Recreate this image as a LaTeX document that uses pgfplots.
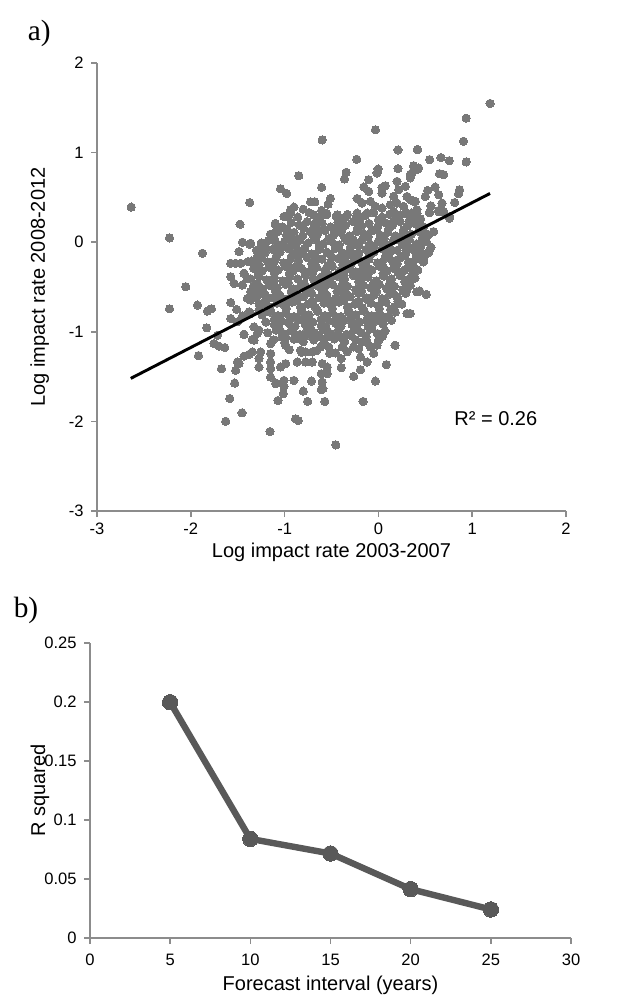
\documentclass[border=0pt]{standalone}
\usepackage{pgfplots}
\pgfplotsset{compat=1.18}
\usepackage{fontspec}
\setmainfont{Liberation Sans}
\newfontfamily\timesfont{Liberation Serif}
\definecolor{dotgray}{HTML}{787878}
\definecolor{axgray}{HTML}{8C8C8C}
\definecolor{linegray}{HTML}{595959}
\newcommand{\tl}[1]{\mbox{\fontsize{12.4}{14}\selectfont #1}}
\pgfplotsset{
  excelstyle/.style={
    scale only axis,
    axis lines*=left,
    axis line style={axgray, line width=1.5pt},
    tick style={axgray, line width=1.2pt},
    tick align=outside,
    major tick length=4.5pt,
    tick label style={font=\fontsize{12.4}{14}\selectfont, text=black},
    yticklabel style={xshift=-2pt},
    label style={font=\fontsize{15}{18}\selectfont},
    clip=false,
    clip marker paths=true,
  }
}
\begin{document}
\begin{tikzpicture}[x=1pt,y=1pt]
\path[use as bounding box] (0,0) rectangle (479.25,-752.25);
\node[font=\timesfont\fontsize{22}{26}\selectfont] at (29.5,-25) {a)};
\node[font=\timesfont\fontsize{22}{26}\selectfont] at (19.5,-457.5) {b)};
\begin{axis}[excelstyle,
  at={(72.75pt,-47.25pt)}, anchor=north west,
  width=351.75pt, height=336pt,
  xmin=-3, xmax=2, ymin=-3, ymax=2,
  xticklabel style={yshift=-1pt},
  xtick={-3,-2,-1,0,1,2}, xticklabels={\tl{-3},\tl{-2},\tl{-1},\tl{0},\tl{1},\tl{2}},
  ytick={-3,-2,-1,0,1,2}, yticklabels={\tl{-3},\tl{-2},\tl{-1},\tl{0},\tl{1},\tl{2}},
  xlabel={Log impact rate 2003-2007},
  ylabel={Log impact rate 2008-2012},
  xlabel style={at={(axis description cs:0.5,-0.092)}, anchor=center},
  ylabel style={at={(axis description cs:-0.122,0.5)}, anchor=center},
]
\addplot[only marks, color=dotgray, mark=*, mark size=3.1pt, mark options={draw=dotgray, fill=dotgray, line width=0pt}] coordinates {
(-2.635,0.392)(-1.372,0.443)(-0.599,1.142)(-0.032,1.254)(0.209,1.03)(0.415,1.034)(-0.23,0.925)(-0.848,0.742)
(-1.043,0.597)(-0.979,0.544)(-0.606,0.611)(-0.344,0.78)(-0.362,0.705)(-0.003,0.817)(-0.014,0.773)(0.209,0.821)
(-0.103,0.698)(-0.156,0.616)(-0.103,0.567)(0.074,0.63)(0.039,0.611)(0.039,0.549)(-0.511,0.488)(-0.535,0.425)
(-0.723,0.451)(-0.678,0.451)(-0.801,0.369)(-0.9,0.392)(-0.936,0.362)(-0.989,0.287)(-0.606,0.354)(-0.553,0.306)
(-0.688,0.306)(-0.439,0.306)(-0.351,0.276)(-0.227,0.488)(-0.174,0.437)(-0.085,0.455)(-0.227,0.325)(-0.12,0.325)
(-0.032,0.4)(0.039,0.381)(0.128,0.418)(0.163,0.511)(0.199,0.679)(0.216,0.586)(0.287,0.623)(0.305,0.511)
(0.34,0.754)(0.376,0.847)(0.411,0.81)(0.199,0.437)(0.27,0.4)(0.34,0.474)(0.394,0.455)(0.163,0.343)
(0.234,0.306)(0.305,0.325)(0.411,0.325)
(1.191,1.549)(0.936,1.384)(0.907,1.127)(0.936,0.896)(0.418,1.034)(0.546,0.922)(0.667,0.944)(0.755,0.91)
(0.652,0.765)(0.695,0.754)(0.376,0.854)(0.429,0.829)(0.358,0.773)(0.34,0.717)(0.865,0.586)(0.855,0.541)
(0.606,0.616)(0.525,0.578)(0.5,0.511)(0.642,0.53)(0.812,0.443)(0.678,0.437)(0.56,0.406)(0.376,0.455)
(0.543,0.331)(0.642,0.354)(0.695,0.343)(0.759,0.287)(0.411,0.362)
(-1.475,0.2)(-2.227,0.048)(-1.876,-0.123)(-1.45,0.0)(-1.372,-0.022)(-1.486,-0.105)(-1.39,-0.217)(-1.273,-0.105)
(-1.574,-0.235)(-1.521,-0.235)(-1.468,-0.235)(-1.273,-0.179)(-1.574,-0.385)(-1.539,-0.459)(-1.45,-0.478)
(-1.433,-0.347)(-1.397,-0.403)(-1.273,-0.254)(-2.053,-0.497)(-1.326,-0.564)(-1.397,-0.627)(-1.362,-0.646)
(-1.273,-0.683)(-2.227,-0.744)(-1.929,-0.702)(-1.823,-0.769)(-1.78,-0.744)(-1.574,-0.672)(-1.511,-0.75)
(-1.45,-0.825)(-1.379,-0.777)(-1.273,-0.758)(-1.574,-0.851)(-1.503,-0.889)(-1.326,-0.945)(-1.433,-1.03)
(-1.83,-0.956)(-1.273,-0.982)
(-1.918,-1.265)(-1.673,-1.411)(-1.752,-1.131)(-1.699,-1.161)(-1.638,-1.176)(-1.716,-1.038)(-1.433,-1.027)
(-1.344,-1.086)(-1.29,-1.019)(-1.503,-1.337)(-1.486,-1.355)(-1.521,-1.43)(-1.433,-1.273)(-1.379,-1.251)
(-1.344,-1.225)(-1.273,-1.299)(-1.273,-1.393)(-1.532,-1.572)(-1.585,-1.744)(-1.454,-1.904)(-1.628,-1.998)
(-0.454,-2.262)(-1.156,-2.113)(-0.883,-1.971)(-0.855,-1.99)(-1.071,-1.766)(-1.014,-1.691)(-0.755,-1.777)
(-0.571,-1.777)(-0.163,-1.777)(-0.801,-1.662)(-0.609,-1.646)(-0.592,-1.635)(-0.032,-1.55)(-0.263,-1.497)
(-0.191,-1.422)(0.085,-1.366)(0.178,-1.15)(-1.092,-1.572)(-1.007,-1.542)(-1.007,-1.609)(-0.901,-1.542)
(-0.713,-1.55)(-0.609,-1.467)(-0.599,-1.561)(-0.546,-1.467)(-0.599,-1.355)(-0.546,-1.393)(-0.397,-1.4)
(-0.397,-1.299)(-0.12,-1.337)(-0.191,-1.281)(-0.174,-1.113)(-0.014,-1.15)(0.043,-1.049)(-0.085,-1.169)
(-0.263,-1.169)(-0.386,-1.169)(-0.457,-1.236)(-1.149,-1.131)(-1.149,-1.243)(-1.273,-1.299)(-1.149,-1.411)
(-1.149,-1.505)(-1.149,-1.337)(-1.043,-1.393)(-0.989,-1.355)(-1.096,-1.579)(-0.865,-1.337)(-0.777,-1.337)
(-0.705,-1.337)(-0.777,-1.225)(-0.705,-1.225)(-0.83,-1.206)(-0.617,-1.169)(-0.529,-1.169)(-0.475,-1.057)
(-0.546,-1.057)(-0.652,-1.057)(-0.758,-1.038)(-0.865,-1.075)(-0.989,-1.057)(-0.989,-1.15)(-1.326,-1.094)
(-1.255,-1.225)
(0.44,-0.545)(0.511,-0.583)(0.358,-0.254)(0.482,-0.179)(0.525,-0.123)(0.56,-0.056)(0.411,-0.049)(0.34,-0.067)
(0.482,0.082)(0.465,0.007)(0.511,0.007)(0.588,0.119)(0.535,0.082)(0.759,0.268)(0.642,0.342)(0.695,0.342)
(0.546,0.331)(0.404,0.213)(0.34,0.25)(0.358,0.325)(0.34,-0.795)
(0.277,-0.31)(0.411,-0.553)(0.305,-0.795)(0.074,-0.31)(0.163,-0.291)(0.199,-0.198)
(-1.362,-0.011)(-1.326,-0.291)(-1.362,-0.553)(-1.362,-0.795)(-1.291,-0.161)(-1.255,-0.086)(-1.213,-0.011)
(-1.114,0.1)(-1.096,0.194)(-1.007,0.287)(-0.936,0.343)
(-0.95,0.31)(-0.86,0.28)(-0.74,0.33)(-0.62,0.27)(-0.55,0.32)(-0.45,0.29)(-0.33,0.31)(-0.24,0.27)(-0.14,0.3)
(-0.05,0.33)(0.04,0.28)(0.12,0.31)(0.2,0.27)(0.29,0.32)(0.37,0.29)(0.45,0.26)
(-1.1,0.21)(-1.02,0.17)(-0.93,0.22)(-0.84,0.19)(-0.76,0.23)(-0.68,0.18)(-0.6,0.21)(-0.51,0.17)(-0.43,0.22)
(-0.35,0.19)(-0.27,0.23)(-0.18,0.18)(-0.1,0.21)(-0.01,0.17)(0.07,0.22)(0.15,0.19)(0.23,0.23)(0.31,0.18)
(0.39,0.21)(0.48,0.17)
(-1.15,0.09)(-1.07,0.12)(-0.98,0.08)(-0.9,0.11)(-0.81,0.07)(-0.73,0.12)(-0.65,0.09)(-0.57,0.13)(-0.48,0.08)
(-0.4,0.11)(-0.31,0.07)(-0.23,0.12)(-0.15,0.09)(-0.07,0.13)(0.02,0.08)(0.1,0.11)(0.18,0.07)(0.27,0.12)
(0.35,0.09)(0.43,0.12)(0.52,0.08)
(-1.25,-0.01)(-1.17,0.02)(-1.08,-0.02)(-1.0,0.01)(-0.92,-0.03)(-0.84,0.02)(-0.75,-0.01)(-0.67,0.03)(-0.59,-0.02)
(-0.5,0.01)(-0.42,-0.03)(-0.34,0.02)(-0.25,-0.01)(-0.17,0.03)(-0.09,-0.02)(0.0,0.01)(0.08,-0.03)(0.16,0.02)
(0.25,-0.01)(0.33,0.03)(0.41,-0.02)(0.5,0.01)
(-1.3,-0.09)(-1.21,-0.12)(-1.13,-0.08)(-1.05,-0.11)(-0.96,-0.07)(-0.88,-0.12)(-0.8,-0.09)(-0.71,-0.13)
(-0.63,-0.08)(-0.55,-0.11)(-0.46,-0.07)(-0.38,-0.12)(-0.3,-0.09)(-0.21,-0.13)(-0.13,-0.08)(-0.05,-0.11)
(0.04,-0.07)(0.12,-0.12)(0.2,-0.09)(0.29,-0.13)(0.37,-0.08)(0.45,-0.11)(0.54,-0.1)
(-1.35,-0.21)(-1.26,-0.18)(-1.18,-0.22)(-1.1,-0.19)(-1.01,-0.23)(-0.93,-0.18)(-0.85,-0.21)(-0.76,-0.17)
(-0.68,-0.22)(-0.6,-0.19)(-0.51,-0.23)(-0.43,-0.18)(-0.35,-0.21)(-0.26,-0.17)(-0.18,-0.22)(-0.1,-0.19)
(-0.01,-0.23)(0.07,-0.18)(0.15,-0.21)(0.24,-0.17)(0.32,-0.22)(0.4,-0.19)(0.48,-0.22)
(-1.33,-0.29)(-1.24,-0.32)(-1.16,-0.28)(-1.07,-0.31)(-0.99,-0.27)(-0.91,-0.32)(-0.82,-0.29)(-0.74,-0.33)
(-0.66,-0.28)(-0.57,-0.31)(-0.49,-0.27)(-0.41,-0.32)(-0.32,-0.29)(-0.24,-0.33)(-0.16,-0.28)(-0.07,-0.31)
(0.01,-0.27)(0.09,-0.32)(0.18,-0.29)(0.26,-0.33)(0.34,-0.28)(0.42,-0.31)
(-1.36,-0.41)(-1.27,-0.38)(-1.19,-0.42)(-1.11,-0.39)(-1.02,-0.43)(-0.94,-0.38)(-0.86,-0.41)(-0.77,-0.37)
(-0.69,-0.42)(-0.61,-0.39)(-0.52,-0.43)(-0.44,-0.38)(-0.36,-0.41)(-0.27,-0.37)(-0.19,-0.42)(-0.11,-0.39)
(-0.02,-0.43)(0.06,-0.38)(0.14,-0.41)(0.23,-0.37)(0.31,-0.42)(0.39,-0.4)
(-1.33,-0.49)(-1.24,-0.52)(-1.16,-0.48)(-1.08,-0.51)(-0.99,-0.47)(-0.91,-0.52)(-0.83,-0.49)(-0.74,-0.53)
(-0.66,-0.48)(-0.58,-0.51)(-0.49,-0.47)(-0.41,-0.52)(-0.33,-0.49)(-0.24,-0.53)(-0.16,-0.48)(-0.08,-0.51)
(0.01,-0.47)(0.09,-0.52)(0.17,-0.49)(0.26,-0.53)(0.34,-0.48)
(-1.3,-0.61)(-1.21,-0.58)(-1.13,-0.62)(-1.05,-0.59)(-0.96,-0.63)(-0.88,-0.58)(-0.8,-0.61)(-0.71,-0.57)
(-0.63,-0.62)(-0.55,-0.59)(-0.46,-0.63)(-0.38,-0.58)(-0.3,-0.61)(-0.21,-0.57)(-0.13,-0.62)(-0.05,-0.59)
(0.04,-0.63)(0.12,-0.58)(0.2,-0.61)(0.29,-0.57)
(-1.25,-0.69)(-1.17,-0.72)(-1.08,-0.68)(-1.0,-0.71)(-0.92,-0.67)(-0.83,-0.72)(-0.75,-0.69)(-0.67,-0.73)
(-0.58,-0.68)(-0.5,-0.71)(-0.42,-0.67)(-0.33,-0.72)(-0.25,-0.69)(-0.17,-0.73)(-0.08,-0.68)(0.0,-0.71)
(0.08,-0.67)(0.17,-0.72)(0.25,-0.69)
(-1.24,-0.81)(-1.15,-0.78)(-1.07,-0.82)(-0.99,-0.79)(-0.9,-0.83)(-0.82,-0.78)(-0.74,-0.81)(-0.65,-0.77)
(-0.57,-0.82)(-0.49,-0.79)(-0.4,-0.83)(-0.32,-0.78)(-0.24,-0.81)(-0.15,-0.77)(-0.07,-0.82)(0.01,-0.79)
(0.1,-0.83)(0.18,-0.78)
(-1.2,-0.89)(-1.11,-0.92)(-1.03,-0.88)(-0.95,-0.91)(-0.86,-0.87)(-0.78,-0.92)(-0.7,-0.89)(-0.61,-0.93)
(-0.53,-0.88)(-0.45,-0.91)(-0.36,-0.87)(-0.28,-0.92)(-0.2,-0.89)(-0.11,-0.93)(-0.03,-0.88)(0.05,-0.91)(0.14,-0.87)
(-1.18,-1.01)(-1.09,-0.98)(-1.01,-1.02)(-0.93,-0.99)(-0.84,-1.03)(-0.76,-0.98)(-0.68,-1.01)(-0.59,-0.97)
(-0.51,-1.02)(-0.43,-0.99)(-0.34,-1.03)(-0.26,-0.98)(-0.18,-1.01)(-0.09,-0.97)(-0.01,-1.02)(0.07,-0.99)
(-1.12,-1.09)(-1.0,-1.12)(-0.9,-1.08)(-0.8,-1.11)(-0.69,-1.09)(-0.58,-1.12)(-0.47,-1.08)(-0.36,-1.11)
(-0.24,-1.09)(-0.12,-1.12)(0.0,-1.1)
(-0.95,-1.2)(-0.82,-1.23)(-0.66,-1.21)(-0.52,-1.24)(-0.33,-1.22)(-0.21,-1.19)(-0.05,-1.24)
(-0.66,0.24)(-0.4,0.26)(-0.2,0.24)(0.0,0.25)(0.16,0.23)(0.33,0.24)
(-0.97,0.14)(-0.8,0.16)(-0.64,0.13)(-0.47,0.15)(-0.39,0.14)(-0.22,0.16)(-0.06,0.13)(0.11,0.15)(0.27,0.14)(0.44,0.15)
(-1.11,0.04)(-0.94,0.05)(-0.86,0.03)(-0.69,0.06)(-0.53,0.04)(-0.36,0.05)(-0.27,0.03)(-0.11,0.06)(0.06,0.04)
(0.22,0.05)(0.31,0.03)(0.47,0.05)
(-1.21,-0.06)(-1.04,-0.04)(-0.88,-0.05)(-0.79,-0.07)(-0.63,-0.04)(-0.46,-0.05)(-0.3,-0.06)(-0.21,-0.04)
(-0.05,-0.05)(0.12,-0.06)(0.28,-0.04)(0.45,-0.05)
(-1.26,-0.14)(-1.09,-0.16)(-0.92,-0.15)(-0.84,-0.13)(-0.67,-0.16)(-0.51,-0.14)(-0.34,-0.15)(-0.26,-0.16)
(-0.09,-0.14)(0.08,-0.15)(0.24,-0.16)(0.41,-0.14)
(-1.29,-0.26)(-1.12,-0.24)(-0.96,-0.25)(-0.87,-0.27)(-0.71,-0.24)(-0.54,-0.26)(-0.38,-0.25)(-0.29,-0.24)
(-0.13,-0.26)(0.04,-0.25)(0.2,-0.24)(0.37,-0.26)
(-1.28,-0.36)(-1.11,-0.34)(-0.95,-0.35)(-0.78,-0.36)(-0.7,-0.34)(-0.53,-0.36)(-0.37,-0.35)(-0.2,-0.34)
(-0.12,-0.36)(0.05,-0.35)(0.21,-0.34)(0.36,-0.36)
(-1.29,-0.46)(-1.12,-0.44)(-0.96,-0.45)(-0.79,-0.46)(-0.63,-0.44)(-0.54,-0.45)(-0.38,-0.46)(-0.21,-0.44)
(-0.05,-0.45)(0.12,-0.46)(0.28,-0.44)
(-1.26,-0.56)(-1.1,-0.54)(-0.93,-0.55)(-0.77,-0.56)(-0.6,-0.54)(-0.44,-0.55)(-0.35,-0.56)(-0.18,-0.54)
(-0.02,-0.55)(0.15,-0.56)(0.3,-0.54)
(-1.2,-0.66)(-1.03,-0.64)(-0.87,-0.65)(-0.7,-0.66)(-0.54,-0.64)(-0.37,-0.65)(-0.21,-0.66)(-0.12,-0.64)
(0.04,-0.65)(0.21,-0.66)
(-1.15,-0.76)(-0.98,-0.74)(-0.82,-0.75)(-0.65,-0.76)(-0.49,-0.74)(-0.32,-0.75)(-0.16,-0.76)(0.01,-0.74)(0.13,-0.75)
(-1.11,-0.86)(-0.94,-0.84)(-0.78,-0.85)(-0.61,-0.86)(-0.45,-0.84)(-0.28,-0.85)(-0.12,-0.86)(0.05,-0.84)
(-1.06,-0.96)(-0.89,-0.94)(-0.73,-0.95)(-0.56,-0.96)(-0.4,-0.94)(-0.23,-0.95)(-0.07,-0.96)
(-1.03,-1.06)(-0.86,-1.04)(-0.63,-1.05)(-0.41,-1.06)(-0.3,-1.04)(-0.13,-1.05)
};
\addplot[black, line width=2.2pt, no marks] coordinates {(-2.64,-1.52)(1.19,0.544)};
\node[font=\fontsize{15}{18}\selectfont] at (axis cs:1.252,-1.967) {R² = 0.26};
\end{axis}
\begin{axis}[excelstyle,
  at={(67.5pt,-482.25pt)}, anchor=north west,
  width=360.75pt, height=221.25pt,
  xmin=0, xmax=30, ymin=0, ymax=0.25,
  xticklabel style={yshift=-4pt},
  xtick={0,5,10,15,20,25,30},
  xticklabels={\tl{0},\tl{5},\tl{10},\tl{15},\tl{20},\tl{25},\tl{30}},
  ytick={0,0.05,0.1,0.15,0.2,0.25},
  yticklabels={\tl{0},\tl{0.05},\tl{0.1},\tl{0.15},\tl{0.2},\tl{0.25}},
  xlabel={Forecast interval (years)},
  ylabel={R squared},
  xlabel style={at={(axis description cs:0.5,-0.159)}, anchor=center},
  ylabel style={at={(axis description cs:-0.104,0.5)}, anchor=center},
]
\addplot[linegray, line width=4.8pt, mark=*, mark size=5.8pt, mark options={draw=linegray, fill=linegray, line width=0pt}]
  coordinates {(5,0.1998)(10,0.0840)(15,0.0716)(20,0.0414)(25,0.0242)};
\end{axis}
\end{tikzpicture}
\end{document}
